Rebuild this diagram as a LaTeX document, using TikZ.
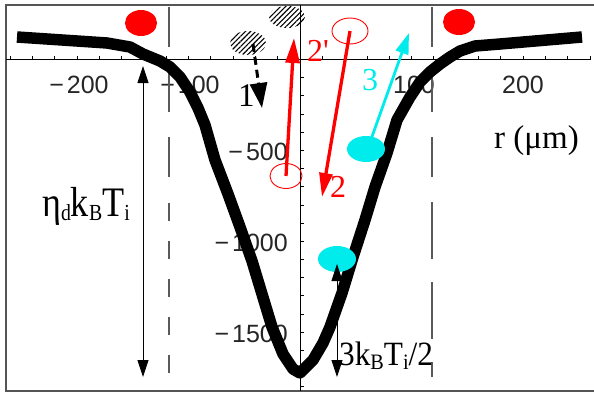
\documentclass[tikz,border=0pt]{standalone}
\usepackage{fontspec}
\setmainfont{Liberation Serif}
\newfontfamily\ticksf{Liberation Sans}
\usetikzlibrary{arrows.meta,patterns.meta,shapes.geometric}
\definecolor{cyanc}{RGB}{0,236,236}
\definecolor{framegray}{RGB}{85,85,85}
\definecolor{dashgray}{RGB}{90,90,90}
\newcommand\lsub[2][20]{\raisebox{-4pt}{\fontsize{#1}{#1}\selectfont #2}}
\tikzset{
  frameline/.style={framegray,line width=1.3pt},
  axisline/.style={black,line width=0.8pt},
  tickline/.style={black,line width=0.7pt},
  ticklab/.style={inner sep=0pt,text=black!85,font=\ticksf\fontsize{25}{25}\selectfont},
  guide/.style={dashgray,line width=1.2pt},
  well/.style={black,line width=11.5pt,line join=round},
  blob/.style={ellipse,inner sep=0pt,minimum width=#1},
  hatch/.style={pattern={Lines[angle=45,distance=3.6pt,line width=1.1pt]},pattern color=black},
  redarrow/.style={red,line width=3.3pt,-{Triangle[width=13pt,length=24pt]}},
  cyanarrow/.style={cyanc,line width=2.8pt,-{Triangle[width=13pt,length=21pt]}},
  thinarrow/.style={black,line width=0.8pt,{Triangle[width=11pt,length=17pt]}-{Triangle[width=11pt,length=17pt]}},
  lab/.style={inner sep=0pt,anchor=base west}
}
\begin{document}
\begin{tikzpicture}[x=1pt,y=-1pt]
\useasboundingbox (0,0) rectangle (594,394);
\fill[white] (0,0) rectangle (594,394);
% frame
\draw[frameline] (594,5) -- (6,5) -- (6,391) -- (594,391);
% axes
\draw[axisline] (6,59) -- (591,59);
\draw[axisline] (300,5) -- (300,391);
\foreach \i in {-13,...,13} \draw[tickline] (300+22.3*\i,59) -- ++(0,-3.3);
\foreach \i in {1,...,18} \draw[tickline] (300,59.5+18.17*\i) -- ++(4,0);
% tick labels
\node[ticklab,anchor=base] (xl1) at (79,93) {−\kern3pt200};
\node[ticklab,anchor=base] (xl2) at (190,93) {−\kern3pt100};
\node[ticklab,anchor=base] (xl3) at (414,93) {100};
\node[ticklab,anchor=base] (xl4) at (523,93) {200};
\node[ticklab,anchor=base east] (yl1) at (288,160) {−\kern3pt500};
\node[ticklab,anchor=base east] (yl2) at (288,251) {−\kern3pt1000};
\node[ticklab,anchor=base east] (yl3) at (288,342) {−\kern3pt1500};
% dashed guide lines
\draw[guide,dash pattern=on 40pt off 25pt] (169,7) -- (169,182);
\draw[guide,dash pattern=on 18pt off 20pt] (169,203) -- (169,377);
\draw[guide,dash pattern=on 40pt off 25pt] (432,7) -- (432,182);
\draw[guide,dash pattern=on 57pt off 23pt] (432,202) -- (432,377);
% eta double arrow
\coordinate (etop) at (143,66);
\coordinate (ebot) at (143,377);
\draw[thinarrow] (etop) -- (ebot);
% potential well
\draw[well] (17,37) -- (107,43) -- (130,47) -- (143,54) -- (160,61) -- (170,67) -- (180,77) -- (190,92) -- (198,108) -- (205,125) -- (215,160) -- (228,194) -- (240,227) -- (252,261) -- (262,294) -- (272,327) -- (283,354) -- (293,369) -- (300,373) -- (313,360) -- (323,343) -- (330,327) -- (342,293) -- (353,257) -- (365,220) -- (375,187) -- (387,153) -- (397,120) -- (410,97) -- (420,82) -- (430,72) -- (440,64) -- (450,57) -- (460,51) -- (475,46) -- (500,44) -- (582,37);
% red filled atoms
\node[blob=32pt,minimum height=26pt,fill=red] (ra1) at (141,23) {};
\node[blob=32pt,minimum height=26pt,fill=red] (ra2) at (459,22) {};
% hatched atoms
\node[blob=36pt,minimum height=24pt,hatch] (h1) at (248,43) {};
\node[blob=36pt,minimum height=22pt,hatch] (h2) at (287,17) {};
% dashed arrow 1
\coordinate (t1) at (262,108);
\draw[black,line width=3pt,dash pattern=on 8pt off 5pt,-{Triangle[width=17pt,length=25pt]}] (253,44) -- (t1);
% red arrows
\node[blob=32pt,minimum height=25pt,draw=red,line width=0.9pt] (e2p) at (286,176) {};
\coordinate (t2p) at (294,38);
\draw[redarrow,-{Triangle[width=14pt,length=25pt]}] (e2p.center) -- (t2p);
\node[blob=36pt,minimum height=26pt,draw=red,line width=0.9pt] (e2) at (350,31) {};
\coordinate (t2) at (322,197);
\draw[redarrow] (e2.center) -- (t2);
% cyan
\coordinate (t3) at (409,33);
\node[blob=38pt,minimum height=26pt,fill=cyanc] (c1) at (366,149) {};
\draw[cyanarrow] (369,145) -- (t3);
\node[blob=38pt,minimum height=26pt,fill=cyanc] (c2) at (337,259) {};
% 3kT/2 double arrow
\coordinate (ktop) at (337,264);
\coordinate (kbot) at (337,377);
\draw[thinarrow] (ktop) -- (kbot);
% labels
\node[lab,font=\fontsize{33}{33}\selectfont] (l1) at (238,106) {1};
\node[lab,text=red,font=\fontsize{32}{32}\selectfont] (l2p) at (307,61) {2\textquotesingle};
\node[lab,text=red,font=\fontsize{32}{32}\selectfont] (l2) at (330,197) {2};
\node[lab,text=cyanc,font=\fontsize{32}{32}\selectfont] (l3) at (362,90) {3};
\node[lab,font=\fontsize{33}{33}\selectfont] (lr) at (494,148) {r (μm)};
\node[lab,font=\fontsize{42}{42}\selectfont] (leta) at (42,216) {\scalebox{0.86}[1]{η\lsub[23]{d}k\lsub[23]{B}T\lsub[23]{i}}};
\node[lab,font=\fontsize{34}{34}\selectfont] (lk) at (339,365) {\scalebox{0.92}[1]{3k\lsub[22]{B}T\lsub[22]{i}/2}};
\end{tikzpicture}
\end{document}
